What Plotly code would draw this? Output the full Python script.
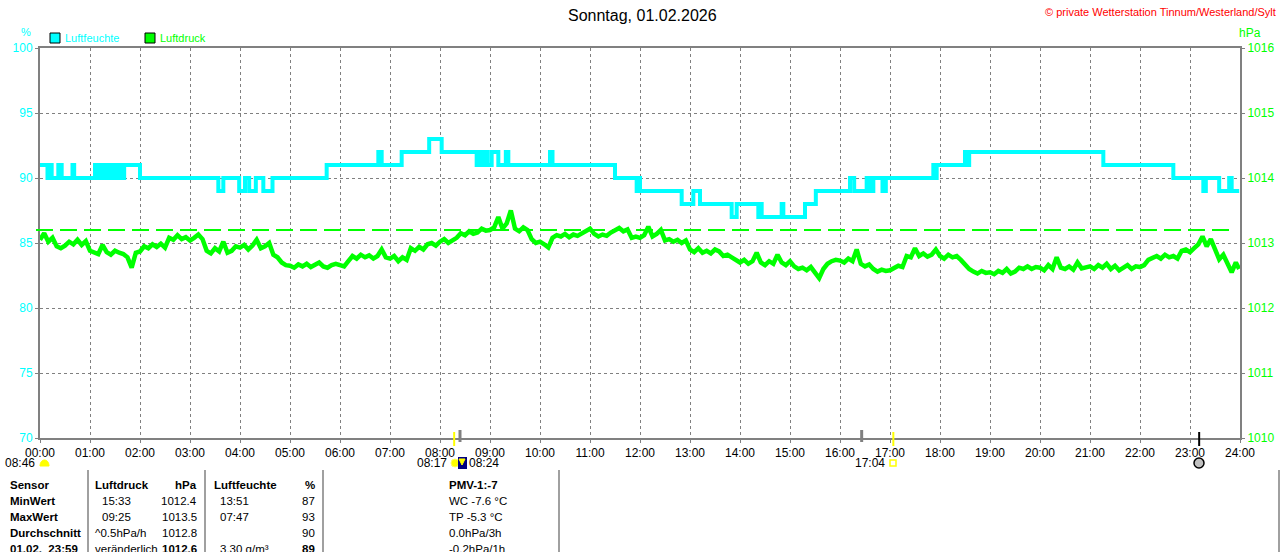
"""
Tagesgrafik Luftfeuchte / Luftdruck (Wetterstation Tinnum) nachgebaut mit Plotly
"""

import numpy as np
import plotly.graph_objects as go

FONT = "Liberation Sans, Arial, sans-serif"
CYAN = "#00ffff"
GREEN = "#00ff00"
GRAY = "#808080"

# --- data -------------------------------------------------------------------
hour_labels = ["%02d:00" % h for h in range(25)]

# humidity (%) as change points, held until the next one
hum_times = [
    "00:00", "00:09", "00:12", "00:14", "00:22", "00:26", "00:39", "00:41",
    "01:06", "01:08", "01:11", "01:14", "01:18", "01:21", "01:24", "01:26",
    "01:29", "01:32", "01:35", "01:38", "01:41", "02:00", "03:34", "03:40",
    "03:59", "04:06", "04:11", "04:19", "04:28", "04:39", "05:44", "06:46",
    "06:50", "07:14", "07:47", "08:02", "08:44", "08:47", "08:50", "08:53",
    "08:57", "09:02", "09:10", "09:19", "09:22", "10:12", "10:15", "11:30",
    "11:56", "11:58", "12:00", "12:50", "13:04", "13:12", "13:50", "13:56",
    "14:22", "14:24", "14:26", "14:50", "14:52", "15:18", "15:31", "16:12",
    "16:17", "16:32", "16:36", "16:40", "16:51", "16:55", "17:52", "17:54",
    "17:56", "18:30", "18:32", "18:35", "21:16", "22:40", "23:16", "23:19",
    "23:35", "23:47", "23:50", "23:59",
]
hum_values = [
    91, 90, 91, 90, 91, 90, 91, 90,
    91, 90, 91, 90, 91, 90, 91, 90,
    91, 90, 91, 90, 91, 90, 89, 90,
    89, 90, 89, 90, 89, 90, 91, 92,
    91, 92, 93, 92, 91, 92, 91, 92,
    91, 92, 91, 92, 91, 92, 91, 90,
    89, 90, 89, 88, 89, 88, 87, 88,
    87, 88, 87, 88, 87, 88, 89, 90,
    89, 90, 89, 90, 89, 90, 91, 90,
    91, 92, 91, 92, 91, 90, 89, 90,
    89, 90, 89, 89,
]

# pressure (hPa), one reading every 5 minutes, one row per hour
press_rows = [
    [1013.05, 1013.15, 1013.02, 1013.08, 1012.95, 1012.92, 1012.96, 1013.02, 1012.98, 1013.05, 1012.97, 1013.03],
    [1012.88, 1012.85, 1012.83, 1012.97, 1012.86, 1012.82, 1012.88, 1012.85, 1012.83, 1012.78, 1012.62, 1012.85],
    [1012.87, 1012.95, 1012.92, 1012.98, 1012.94, 1012.99, 1012.93, 1013.08, 1013.05, 1013.12, 1013.06, 1013.09],
    [1013.04, 1013.08, 1013.13, 1013.06, 1012.88, 1012.84, 1012.92, 1012.87, 1013.02, 1012.85, 1012.88, 1012.95],
    [1012.93, 1012.97, 1012.90, 1012.96, 1013.05, 1012.92, 1012.95, 1013.00, 1012.82, 1012.78, 1012.70, 1012.66],
    [1012.65, 1012.62, 1012.67, 1012.64, 1012.68, 1012.63, 1012.66, 1012.70, 1012.64, 1012.62, 1012.66, 1012.68],
    [1012.66, 1012.64, 1012.72, 1012.80, 1012.76, 1012.82, 1012.78, 1012.81, 1012.76, 1012.80, 1012.90, 1012.78],
    [1012.76, 1012.80, 1012.72, 1012.78, 1012.74, 1012.92, 1012.88, 1012.94, 1012.90, 1012.98, 1013.00, 1012.96],
    [1013.02, 1013.06, 1013.00, 1013.04, 1013.08, 1013.15, 1013.12, 1013.18, 1013.14, 1013.16, 1013.22, 1013.19],
    [1013.20, 1013.24, 1013.40, 1013.22, 1013.30, 1013.50, 1013.22, 1013.18, 1013.24, 1013.20, 1013.06, 1013.00],
    [1013.02, 1012.98, 1012.93, 1013.08, 1013.12, 1013.10, 1013.14, 1013.09, 1013.13, 1013.11, 1013.15, 1013.20],
    [1013.22, 1013.14, 1013.10, 1013.13, 1013.11, 1013.16, 1013.20, 1013.23, 1013.18, 1013.21, 1013.08, 1013.10],
    [1013.08, 1013.12, 1013.25, 1013.10, 1013.14, 1013.20, 1013.04, 1013.06, 1013.02, 1013.05, 1013.00, 1013.04],
    [1012.90, 1012.86, 1012.92, 1012.85, 1012.88, 1012.84, 1012.90, 1012.87, 1012.80, 1012.82, 1012.78, 1012.74],
    [1012.70, 1012.74, 1012.68, 1012.72, 1012.85, 1012.70, 1012.66, 1012.72, 1012.68, 1012.82, 1012.70, 1012.66],
    [1012.72, 1012.64, 1012.60, 1012.62, 1012.58, 1012.63, 1012.55, 1012.46, 1012.60, 1012.68, 1012.72, 1012.74],
    [1012.73, 1012.70, 1012.76, 1012.72, 1012.90, 1012.68, 1012.64, 1012.67, 1012.60, 1012.56, 1012.59, 1012.57],
    [1012.58, 1012.62, 1012.65, 1012.63, 1012.80, 1012.78, 1012.92, 1012.80, 1012.84, 1012.79, 1012.82, 1012.90],
    [1012.80, 1012.76, 1012.82, 1012.78, 1012.80, 1012.74, 1012.66, 1012.60, 1012.56, 1012.53, 1012.57, 1012.54],
    [1012.55, 1012.52, 1012.57, 1012.54, 1012.60, 1012.53, 1012.56, 1012.62, 1012.60, 1012.64, 1012.60, 1012.63],
    [1012.62, 1012.58, 1012.66, 1012.60, 1012.78, 1012.62, 1012.60, 1012.64, 1012.59, 1012.70, 1012.61, 1012.63],
    [1012.64, 1012.60, 1012.66, 1012.62, 1012.68, 1012.60, 1012.65, 1012.58, 1012.63, 1012.66, 1012.60, 1012.64],
    [1012.63, 1012.66, 1012.74, 1012.78, 1012.80, 1012.76, 1012.82, 1012.78, 1012.80, 1012.76, 1012.88, 1012.90],
    [1012.86, 1012.92, 1012.98, 1013.10, 1012.95, 1013.06, 1012.92, 1012.75, 1012.82, 1012.68, 1012.55, 1012.70],
]
press_last = ("23:59", 1012.6)
press_ref = 1013.2  # dashed green reference line

# sun / moon marks on the time axis
sunrise, sunset, day_length = "08:17", "17:04", "08:46"
moon_marks = ["08:24", "16:26"]
moon_phase_time = "23:11"

# table below the chart
table_rows = ["Sensor", "MinWert", "MaxWert", "Durchschnitt", "01.02.  23:59"]
press_col_a = ["Luftdruck", "15:33", "09:25", "^0.5hPa/h", "veränderlich"]
press_col_b = ["hPa", "1012.4", "1013.5", "1012.8", "1012.6"]
hum_col_a = ["Luftfeuchte", "13:51", "07:47", "", "3.30 g/m³"]
hum_col_b = ["%", "87", "93", "90", "89"]
extra_col = ["PMV-1:-7", "WC -7.6 °C", "TP -5.3 °C", "0.0hPa/3h", "-0.2hPa/1h"]


def to_hours(hhmm):
    h, m = hhmm.split(":")
    return int(h) + int(m) / 60.0


# pixel helpers (plot area: x 40..1240, y 48..438)
def px(x):
    return (x - 40) / 1200.0


def py(y):
    return (438 - y) / 390.0


hum_x = [to_hours(t) for t in hum_times]
press_y = [v for row in press_rows for v in row] + [press_last[1]]
press_x = list(np.arange(len(press_y) - 1) * 5 / 60.0) + [to_hours(press_last[0])]

fig = go.Figure()

fig.add_trace(
    go.Scatter(
        x=hum_x, y=hum_values, mode="lines", line=dict(color=CYAN, width=4, shape="hv"),
        name="Luftfeuchte", yaxis="y",
    )
)
fig.add_trace(
    go.Scatter(
        x=press_x, y=press_y, mode="lines", line=dict(color=GREEN, width=4.5),
        name="Luftdruck", yaxis="y2",
    )
)

shapes = []
annotations = []

# reference line
shapes.append(dict(type="line", xref="paper", yref="y2", x0=px(36), x1=px(1232),
                   y0=press_ref, y1=press_ref, line=dict(color=GREEN, width=2, dash="17px,7px")))

# title, copyright, units, legend
annotations += [
    dict(text="Sonntag, 01.02.2026", x=px(642), y=py(15), xanchor="center",
         font=dict(size=16, color="#000000")),
    dict(text="© private Wetterstation Tinnum/Westerland/Sylt", x=px(1278), y=py(12),
         xanchor="right", font=dict(size=11, color="#ff0000")),
    dict(text="%", x=px(26), y=py(32), xanchor="center", font=dict(size=11, color=CYAN)),
    dict(text="hPa", x=px(1250), y=py(33), xanchor="center", font=dict(size=12, color=GREEN)),
    dict(text="Luftfeuchte", x=px(63), y=py(38), xanchor="left", font=dict(size=11, color=CYAN)),
    dict(text="Luftdruck", x=px(158), y=py(38), xanchor="left", font=dict(size=11, color=GREEN)),
]
for x0, col in [(50, CYAN), (145, GREEN)]:
    shapes.append(dict(type="rect", xref="paper", yref="paper", x0=px(x0), x1=px(x0 + 10),
                       y0=py(43), y1=py(33), fillcolor=col, line=dict(color="#000000", width=1)))

# sun / moon ticks on the time axis
for t, col, y_top, y_bot, w in [(sunrise, "#ffff00", 432, 446, 2), (sunset, "#ffff00", 432, 446, 2),
                                (moon_marks[0], GRAY, 430, 442, 3), (moon_marks[1], GRAY, 430, 442, 3),
                                (moon_phase_time, "#000000", 432, 446, 2)]:
    shapes.append(dict(type="line", xref="x", yref="paper", x0=to_hours(t), x1=to_hours(t),
                       y0=py(y_bot), y1=py(y_top), line=dict(color=col, width=w)))

annotations += [
    dict(text=day_length, x=px(37), y=py(463), xanchor="right", font=dict(size=12)),
    dict(text=sunrise, x=px(449), y=py(463), xanchor="right", font=dict(size=12)),
    dict(text=moon_marks[0], x=px(467), y=py(463), xanchor="left", font=dict(size=12)),
    dict(text=sunset, x=px(887), y=py(463), xanchor="right", font=dict(size=12)),
]
shapes += [
    # half sun next to day length
    dict(type="path", xref="paper", yref="paper",
         path="M %f %f C %f %f %f %f %f %f Z" % (px(40), py(466), px(40), py(458), px(49), py(458),
                                                  px(49), py(466)),
         fillcolor="#ffff00", line=dict(color="#ffff00", width=1)),
    # sunrise icon
    dict(type="circle", xref="paper", yref="paper", x0=px(451), x1=px(459), y0=py(467), y1=py(459),
         fillcolor="#ffff00", line=dict(color="#ffff66", width=1)),
    dict(type="rect", xref="paper", yref="paper", x0=px(458), x1=px(467), y0=py(469), y1=py(457),
         fillcolor="#000080", line=dict(width=0)),
    dict(type="path", xref="paper", yref="paper",
         path="M %f %f L %f %f L %f %f Z" % (px(459), py(459), px(465), py(459), px(462), py(465)),
         fillcolor="#ffff00", line=dict(color="#ffff00", width=1)),
    # sunset icon
    dict(type="rect", xref="paper", yref="paper", x0=px(890), x1=px(896), y0=py(466), y1=py(460),
         fillcolor="#ffffff", line=dict(color="#ffff00", width=1.5)),
    # moon phase
    dict(type="circle", xref="paper", yref="paper", x0=px(1194), x1=px(1204), y0=py(468), y1=py(458),
         fillcolor="#c0c0c0", line=dict(color="#000000", width=1.5)),
]

# table separators
for xl in [88, 205, 323, 559, 1279]:
    shapes.append(dict(type="line", xref="paper", yref="paper", x0=px(xl), x1=px(xl),
                       y0=py(470), y1=py(560), line=dict(color="#a0a0a0", width=2)))

row_y = [485, 501, 517, 533, 549]
for i, yy in enumerate(row_y):
    bold_row = i == 0
    last = i == len(row_y) - 1

    def b(s, on):
        return "<b>%s</b>" % s if on and s else s

    cells = [
        (table_rows[i], 8, "left", True),
        (press_col_a[i], 93 if i in (0, 3, 4) else 100, "left", bold_row),
        (press_col_b[i], 199, "right", bold_row or last),
        (hum_col_a[i], 212 if i == 0 else 218, "left", bold_row),
        (hum_col_b[i], 317, "right", bold_row or last),
        (extra_col[i], 447, "left", bold_row),
    ]
    for txt, xx, anc, bold in cells:
        if not txt:
            continue
        annotations.append(dict(text=b(txt, bold), x=px(xx), y=py(yy), xanchor=anc,
                                font=dict(size=11.5)))

for a in annotations:
    a.setdefault("xref", "paper")
    a.setdefault("yref", "paper")
    a.setdefault("showarrow", False)
    a.setdefault("yanchor", "middle")
    a["font"].setdefault("color", "#000000")

grid = dict(showgrid=True, gridcolor=GRAY, gridwidth=1, griddash="3px,3px", zeroline=False)

fig.update_layout(
    width=1280,
    height=552,
    autosize=False,
    margin=dict(l=40, r=40, t=48, b=114, pad=0, autoexpand=False),
    paper_bgcolor="#ffffff",
    plot_bgcolor="#ffffff",
    font=dict(family=FONT, size=12, color="#000000"),
    showlegend=False,
    shapes=shapes,
    annotations=annotations,
    xaxis=dict(
        range=[0, 24], tickmode="array", tickvals=list(range(25)), ticktext=hour_labels,
        ticks="outside", ticklen=3, tickcolor=GRAY, tickfont=dict(size=12, color="#000000"),
        showline=True, linecolor=GRAY, linewidth=2, mirror=True, automargin=False, **grid,
    ),
    yaxis=dict(
        range=[70, 100], dtick=5, ticks="outside", ticklen=3, tickcolor=GRAY,
        tickfont=dict(size=12, color=CYAN), showline=True, linecolor=GRAY, linewidth=2,
        automargin=False, **grid,
    ),
    yaxis2=dict(
        range=[1010, 1016], dtick=1, overlaying="y", side="right", showgrid=False, zeroline=False,
        ticks="outside", ticklen=3, tickcolor=GRAY, tickfont=dict(size=12, color=GREEN),
        showline=True, linecolor=GRAY, linewidth=2, automargin=False,
    ),
)

# the page's default body margin would push the 1280x552 figure off by 8px
fig.write_html(
    "out.html",
    config={"displayModeBar": False},
    post_script="document.body.style.margin='0';document.body.style.overflow='hidden';",
)
